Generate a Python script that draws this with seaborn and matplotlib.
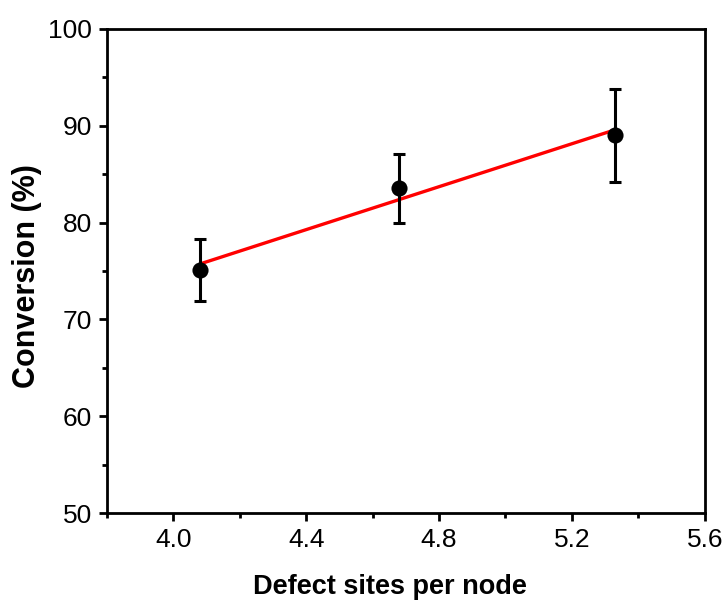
import matplotlib
matplotlib.use("Agg")
import matplotlib.pyplot as plt
import numpy as np
import pandas as pd
import seaborn as sns
from matplotlib.ticker import MultipleLocator

# Data
defect_sites = [4.08, 4.68, 5.33]
conversion = [75.1, 83.6, 89.0]
err_low = [3.2, 3.6, 4.8]
err_high = [3.2, 3.5, 4.8]

x_ticks = [4.0, 4.4, 4.8, 5.2, 5.6]
y_ticks = [50, 60, 70, 80, 90, 100]

sns.set_style("ticks")
plt.rcParams['font.family'] = ['Liberation Sans', 'DejaVu Sans']
plt.rcParams['text.color'] = 'black'
plt.rcParams['axes.labelcolor'] = 'black'
plt.rcParams['xtick.color'] = 'black'
plt.rcParams['ytick.color'] = 'black'

df = pd.DataFrame({"x": defect_sites, "y": conversion})

fig = plt.figure(figsize=(7.28, 6.03), dpi=100)
ax = fig.add_axes([0.147, 0.149, 0.821, 0.803])

sns.regplot(data=df, x="x", y="y", ax=ax, scatter=False, ci=None, truncate=True,
            line_kws=dict(color="#ff0000", lw=2.4, zorder=2))
ax.errorbar(defect_sites, conversion, yerr=[err_low, err_high], fmt="none",
            ecolor="black", elinewidth=2.2, capsize=4.5, capthick=2.2, zorder=3)
sns.scatterplot(data=df, x="x", y="y", ax=ax, color="black", s=135,
                edgecolor="black", linewidth=0, zorder=4)

ax.set_xlim(3.8, 5.6)
ax.set_ylim(50, 100)
ax.set_xticks(x_ticks)
ax.set_yticks(y_ticks)
ax.set_xticklabels([f"{v:.1f}" for v in x_ticks])
ax.set_yticklabels([str(v) for v in y_ticks])
ax.xaxis.set_minor_locator(MultipleLocator(0.2))
ax.yaxis.set_minor_locator(MultipleLocator(5))

for s in ax.spines.values():
    s.set_visible(True)
    s.set_linewidth(2.0)
    s.set_color("black")

ax.tick_params(which="major", direction="out", length=6, width=2.0, labelsize=19,
               colors="black", pad=5)
ax.tick_params(which="minor", direction="out", length=3.5, width=2.0, colors="black")
ax.tick_params(top=False, right=False, which="both")

ax.set_xlabel("Defect sites per node", fontsize=19.5, fontweight="bold", color="black")
ax.set_ylabel("Conversion (%)", fontsize=22, fontweight="bold", color="black")
ax.xaxis.set_label_coords(0.473, -0.125)
ax.yaxis.set_label_coords(-0.108, 0.49)

fig.savefig("out.png", dpi=100)
